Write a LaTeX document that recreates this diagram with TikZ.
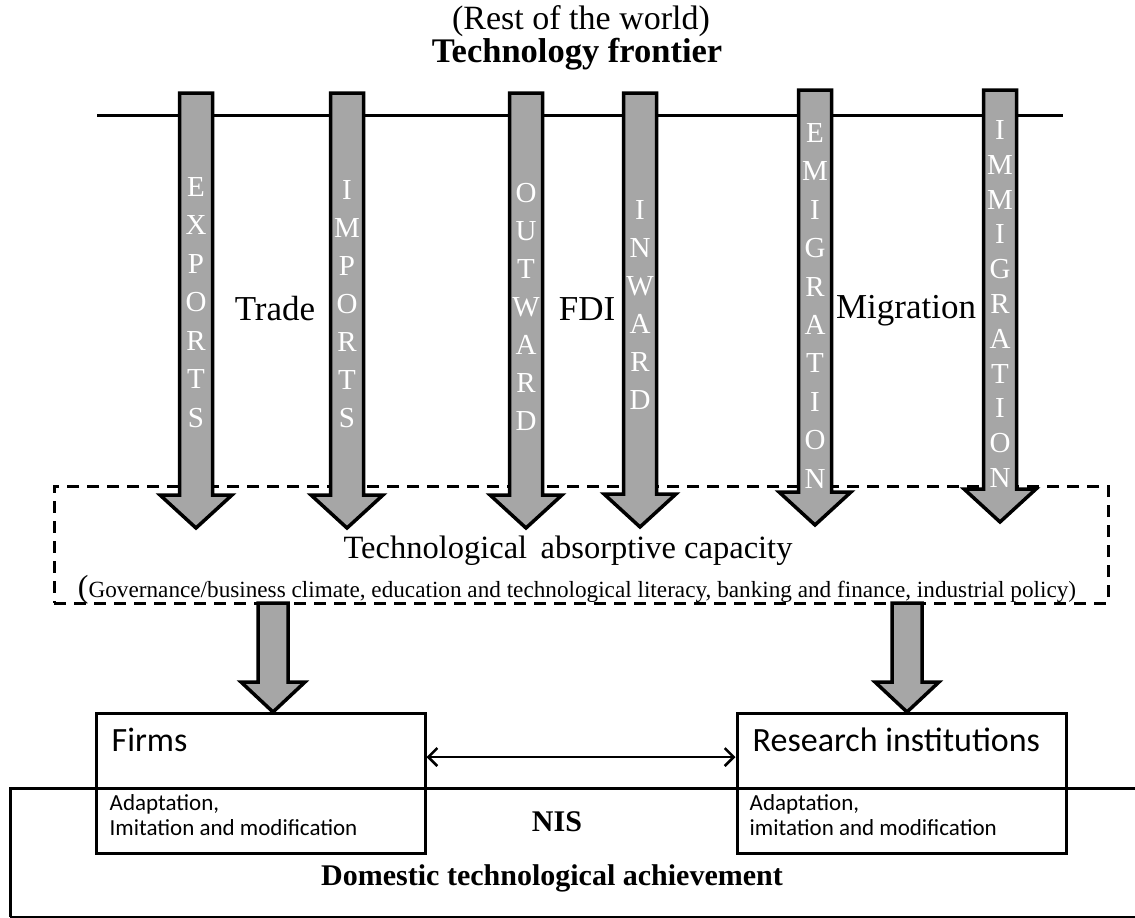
\documentclass[tikz,border=0pt]{standalone}
\usepackage{fontspec}
\setmainfont{Liberation Serif}
\newfontfamily\calibfont{Carlito}
\usetikzlibrary{positioning, arrows.meta, calc}
\definecolor{arrowgray}{gray}{0.65}

\tikzset{
  fatarrow/.style={draw=black, fill=arrowgray, line width=3.5pt, line join=miter},
  letter/.style={text=white, inner sep=0pt, font=\fontsize{29}{29}\selectfont},
  flowlabel/.style={anchor=base, inner sep=0pt, font=\fontsize{35}{35}\selectfont},
  headline/.style={anchor=base, inner sep=0pt, font=\bfseries\fontsize{30}{30}\selectfont},
  capbox/.style={draw, dashed, dash pattern=on 12pt off 8pt, line width=3pt,
    minimum width=1054pt, minimum height=117pt, inner sep=0pt},
  actorbox/.style={draw, line width=3pt, minimum width=329pt, minimum height=140pt, inner sep=0pt},
  actorname/.style={anchor=base west, inner sep=0pt, font=\calibfont\fontsize{34}{34}\selectfont},
  actornote/.style={anchor=base west, inner sep=0pt, font=\calibfont\fontsize{23}{23}\selectfont},
  linkarrow/.style={line width=2.5pt, {Straight Barb[length=9pt, width=18pt]}-{Straight Barb[length=9pt, width=18pt]}}
}

% block arrow from #1 down to tip #2: shaft half width, head half width, head length
\newcommand{\blockarrow}[5]{%
  \draw[fatarrow] ($(#1)+(-#3,0)$) -- ($(#2)+(-#3,-#5)$) -- ($(#2)+(-#4,-#5)$) -- (#2)
    -- ($(#2)+(#4,-#5)$) -- ($(#2)+(#3,-#5)$) -- ($(#1)+(#3,0)$) -- cycle;}

\begin{document}
\begin{tikzpicture}[x=1pt, y=-1pt]
\useasboundingbox[fill=white] (0,0) rectangle (1135,918);
% Titles
\node[flowlabel, font=\fontsize{34}{34}\selectfont] (rest) at (581,29) {(Rest of the world)};
\node[headline, font=\bfseries\fontsize{34.5}{34.5}\selectfont] (frontier) at (577,62) {Technology frontier};
% Frontier line
\coordinate (fl) at (97,115);
\coordinate (fr) at (1063,115);
\draw[line width=3pt] (fl) -- (fr);
% Absorptive capacity
\node[capbox] (cap) at (581,544.5) {};
\node[flowlabel, font=\fontsize{32.5}{32.5}\selectfont] (captitle) at (568,558) {Technological\, absorptive capacity};
\node[anchor=base, inner sep=0pt, font=\fontsize{23.2}{23.2}\selectfont] (capsub) at (577,597)
  {{\fontsize{32}{32}\selectfont(}Governance/business climate, education and technological literacy, banking and finance, industrial policy)};
% Channels
\coordinate (exp-top) at (196,93);  \coordinate (exp-tip) at (196,528);
\coordinate (imp-top) at (347,93);  \coordinate (imp-tip) at (347,528);
\coordinate (out-top) at (526,93);  \coordinate (out-tip) at (526,528);
\coordinate (inw-top) at (640,93);  \coordinate (inw-tip) at (640,527);
\coordinate (emi-top) at (815,90);  \coordinate (emi-tip) at (815,525);
\coordinate (imm-top) at (1000,90); \coordinate (imm-tip) at (1000,522);
\blockarrow{exp-top}{exp-tip}{16.5}{36}{33}
\blockarrow{imp-top}{imp-tip}{16.5}{36}{33}
\blockarrow{out-top}{out-tip}{16.5}{36}{33}
\blockarrow{inw-top}{inw-tip}{16.5}{36}{33}
\blockarrow{emi-top}{emi-tip}{16.5}{36}{33}
\blockarrow{imm-top}{imm-tip}{16.5}{36}{33}
% Channel words
\foreach \c [count=\i] in {E,X,P,O,R,T,S}
  \node[letter] (exp\i) at (196,{187+38.5*(\i-1)}) {\c};
\foreach \c [count=\i] in {I,M,P,O,R,T,S}
  \node[letter] (imp\i) at (347,{190+38*(\i-1)}) {\c};
\foreach \c [count=\i] in {O,U,T,W,A,R,D}
  \node[letter] (out\i) at (526,{193+38*(\i-1)}) {\c};
\foreach \c [count=\i] in {I,N,W,A,R,D}
  \node[letter] (inw\i) at (640,{210+38*(\i-1)}) {\c};
\foreach \c [count=\i] in {E,M,I,G,R,A,T,I,O,N}
  \node[letter] (emi\i) at (815,{133+38.4*(\i-1)}) {\c};
\foreach \c [count=\i] in {I,M,M,I,G,R,A,T,I,O,N}
  \node[letter] (imm\i) at (1000,{130+34.8*(\i-1)}) {\c};
% Channel groups
\node[flowlabel] (trade) at (275,320) {Trade};
\node[flowlabel] (fdi) at (587,320) {FDI};
\node[flowlabel] (migration) at (906,318) {Migration};
% NIS
\coordinate (nis-tr) at (1135,788);
\coordinate (nis-tl) at (10,788);
\coordinate (nis-bl) at (10,917);
\coordinate (nis-br) at (1135,917);
\draw[line width=3pt] (nis-tr) -- (nis-tl) -- (nis-bl);
\draw[line width=1.5pt] (nis-bl) -- (nis-br);
\node[headline] (nis) at (557,831) {NIS};
\node[headline] (achieve) at (552,885) {Domestic technological achievement};
% Firms and research
\node[actorbox] (firms) at (260.5,783.5) {};
\node[actorbox] (research) at (901.5,783.5) {};
\node[actorname] (firmsname) at ($(firms.north west)+(17,39.5)$) {Firms};
\node[actornote] (firmsa) at ($(firms.north west)+(15,98.5)$) {Adaptation,};
\node[actornote] (firmsb) at ($(firms.north west)+(15,123.5)$) {Imitation and modification};
\node[actorname] (resname) at ($(research.north west)+(17,39.5)$) {Research institutions};
\node[actornote] (resa) at ($(research.north west)+(14,98.5)$) {Adaptation,};
\node[actornote] (resb) at ($(research.north west)+(14,123.5)$) {imitation and modification};
% Absorption into actors
\coordinate (firms-in) at (273,603);
\coordinate (firms-tip) at (firms-in |- firms.north);
\coordinate (res-in) at (907,603);
\coordinate (res-tip) at (res-in |- research.north);
\blockarrow{firms-in}{firms-tip}{15}{32}{30}
\blockarrow{res-in}{res-tip}{15}{32}{30}
% Link
\draw[linkarrow] ([yshift=26.5pt]firms.east) -- ([yshift=26.5pt]research.west);
\end{tikzpicture}
\end{document}
